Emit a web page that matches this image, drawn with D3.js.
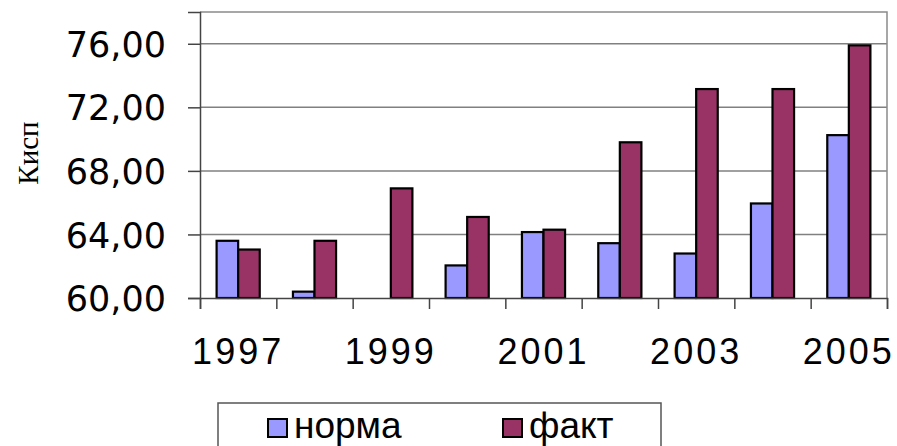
<!DOCTYPE html>
<html>
<head>
<meta charset="utf-8">
<script src="https://cdn.jsdelivr.net/npm/d3@7"></script>
<style>
  body { margin: 0; background: #fff; }
  svg { display: block; }
</style>
</head>
<body>
<div id="chart"></div>
<script>
// data
const years = ["1997", "1998", "1999", "2000", "2001", "2002", "2003", "2004", "2005"];
const labeledYears = ["1997", "1999", "2001", "2003", "2005"];
const seriesNames = ["норма", "факт"];
const normaValues = [63.6, 60.4, 60.0, 62.05, 64.15, 63.45, 62.8, 65.95, 70.25];
const faktValues = [63.05, 63.6, 66.9, 65.1, 64.3, 69.8, 73.15, 73.15, 75.9];
const yTicks = [60, 64, 68, 72, 76];
const colors = { "норма": "#9999ff", "факт": "#993366" };

const width = 897, height = 446;
const margin = { top: 12, right: 10, bottom: 148, left: 200 };

const svg = d3.select('#chart').append('svg')
  .attr('width', width)
  .attr('height', height);

const rows = years.map((y, i) => ({ year: y, "норма": normaValues[i], "факт": faktValues[i] }));

const x0 = d3.scaleBand()
  .domain(years)
  .range([margin.left, width - margin.right])
  .padding(0);

const x1 = d3.scaleBand()
  .domain(seriesNames)
  .range([0, x0.bandwidth()])
  .paddingInner(0)
  .paddingOuter(0.77);

// boundaries between categories, for tick marks
const xEdge = d3.scaleLinear()
  .domain([0, years.length])
  .range([margin.left, width - margin.right]);

const y = d3.scaleLinear()
  .domain([60, 78])
  .range([height - margin.bottom, margin.top]);

// gridlines
svg.append('g')
  .selectAll('line')
  .data(yTicks.filter(d => d > 60))
  .enter()
  .append('line')
  .attr('x1', margin.left)
  .attr('x2', width - margin.right)
  .attr('y1', d => y(d))
  .attr('y2', d => y(d))
  .attr('stroke', '#808080')
  .attr('stroke-width', 1.5);

// top and right frame
svg.append('path')
  .attr('d', `M${margin.left},${margin.top}H${width - margin.right}V${height - margin.bottom}`)
  .attr('fill', 'none')
  .attr('stroke', '#8a8a8a')
  .attr('stroke-width', 1.5);

// bars
const groups = svg.append('g')
  .selectAll('g')
  .data(rows)
  .enter()
  .append('g')
  .attr('transform', d => `translate(${x0(d.year)},0)`);

groups.selectAll('rect')
  .data(d => seriesNames.map(s => ({ key: s, value: d[s] })).filter(d => d.value > 60))
  .enter()
  .append('rect')
  .attr('x', d => x1(d.key))
  .attr('width', x1.bandwidth())
  .attr('y', d => y(d.value))
  .attr('height', d => y(60) - y(d.value))
  .attr('fill', d => colors[d.key])
  .attr('stroke', '#000')
  .attr('stroke-width', 2.2);

// y axis
const yAxis = svg.append('g')
  .attr('transform', `translate(${margin.left},0)`)
  .call(d3.axisLeft(y)
    .tickValues(yTicks)
    .tickSize(12)
    .tickPadding(22)
    .tickFormat(d => d3.format('.2f')(d).replace('.', ',')));
yAxis.select('.domain').attr('stroke', '#444').attr('stroke-width', 1.5);
yAxis.selectAll('.tick line').attr('stroke', '#444').attr('stroke-width', 1.5);
yAxis.selectAll('text')
  .attr('fill', '#000')
  .style('font-family', '"DejaVu Sans", Verdana, sans-serif')
  .style('font-size', '35px')
  .attr('dy', '0.36em');

// x axis: tick marks at category edges
const xTickAxis = svg.append('g')
  .attr('transform', `translate(0,${y(60)})`)
  .call(d3.axisBottom(xEdge)
    .tickValues(d3.range(years.length + 1))
    .tickSize(11)
    .tickFormat(''));
xTickAxis.select('.domain').attr('stroke', '#444').attr('stroke-width', 1.5);
xTickAxis.selectAll('.tick line').attr('stroke', '#444').attr('stroke-width', 1.5);

// x labels (baseline about 66px below the axis)
const xLabelAxis = svg.append('g')
  .attr('transform', `translate(0,${y(60)})`)
  .call(d3.axisBottom(x0)
    .tickValues(labeledYears)
    .tickSize(0)
    .tickPadding(66));
xLabelAxis.select('.domain').remove();
xLabelAxis.selectAll('text')
  .attr('fill', '#000')
  .attr('dy', '0')
  .style('font-family', '"Liberation Sans", Arial, sans-serif')
  .style('font-size', '36px')
  .style('letter-spacing', '3px');

// y title
svg.append('text')
  .attr('transform', 'translate(38,153) rotate(-90)')
  .attr('text-anchor', 'middle')
  .style('font-family', '"Liberation Serif", "Times New Roman", serif')
  .style('font-size', '29px')
  .text('Кисп');

// legend
const legend = svg.append('g');
legend.append('rect')
  .attr('x', 218)
  .attr('y', 403)
  .attr('width', 443)
  .attr('height', 60)
  .attr('fill', '#fff')
  .attr('stroke', '#555')
  .attr('stroke-width', 1.5);

const legendX = d3.scaleOrdinal().domain(seriesNames).range([268, 503]);

const items = legend.selectAll('g.item')
  .data(seriesNames)
  .enter()
  .append('g')
  .attr('class', 'item')
  .attr('transform', d => `translate(${legendX(d)},419)`);

items.append('rect')
  .attr('width', 19)
  .attr('height', 18)
  .attr('fill', d => colors[d])
  .attr('stroke', '#000')
  .attr('stroke-width', 2);

items.append('text')
  .attr('x', 26)
  .attr('y', 19)
  .style('font-family', '"Liberation Sans", Arial, sans-serif')
  .style('font-size', '37px')
  .text(d => d);
</script>
</body>
</html>
